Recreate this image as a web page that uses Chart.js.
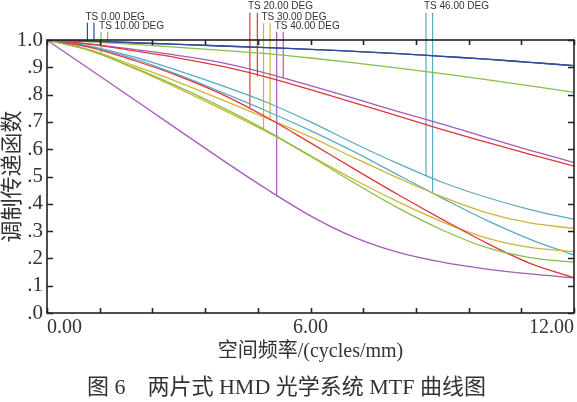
<!DOCTYPE html>
<html>
<head>
<meta charset="utf-8">
<script src="https://cdn.jsdelivr.net/npm/chart.js@4/dist/chart.umd.min.js"></script>
<style>
  html, body { margin: 0; padding: 0; background: #fff; }
</style>
</head>
<body>
<canvas id="mtfChart" width="577" height="402"></canvas>
<script>
// --- MTF data (spatial frequency in cycles/mm) ---
const freqs = [0, 1, 2, 3, 4, 5, 6, 7, 8, 9, 10, 11, 12];

const mtf0T  = [1, 0.996, 0.990, 0.984, 0.978, 0.972, 0.966, 0.958, 0.950, 0.940, 0.930, 0.918, 0.906];
const mtf0S  = [1, 0.996, 0.990, 0.984, 0.978, 0.972, 0.966, 0.958, 0.950, 0.940, 0.930, 0.918, 0.906];
const mtf10T = [1, 0.960, 0.898, 0.828, 0.752, 0.668, 0.574, 0.476, 0.384, 0.304, 0.240, 0.203, 0.186];
const mtf10S = [1, 0.993, 0.984, 0.973, 0.962, 0.950, 0.934, 0.916, 0.897, 0.877, 0.855, 0.832, 0.808];
const mtf20T = [1, 0.972, 0.924, 0.868, 0.800, 0.717, 0.623, 0.527, 0.433, 0.343, 0.257, 0.182, 0.129];
const mtf20S = [1, 0.984, 0.960, 0.934, 0.903, 0.864, 0.818, 0.770, 0.721, 0.672, 0.626, 0.581, 0.538];
const mtf30T = [1, 0.960, 0.895, 0.822, 0.745, 0.664, 0.576, 0.488, 0.407, 0.334, 0.275, 0.240, 0.225];
const mtf30S = [1, 0.963, 0.905, 0.845, 0.780, 0.714, 0.645, 0.568, 0.494, 0.425, 0.368, 0.330, 0.310];
const mtf40T = [1, 0.890, 0.780, 0.670, 0.560, 0.454, 0.356, 0.277, 0.222, 0.186, 0.161, 0.143, 0.129];
const mtf40S = [1, 0.985, 0.965, 0.943, 0.916, 0.878, 0.833, 0.786, 0.738, 0.692, 0.643, 0.596, 0.551];
const mtf46T = [1, 0.975, 0.930, 0.872, 0.807, 0.740, 0.668, 0.590, 0.505, 0.421, 0.340, 0.270, 0.212];
const mtf46S = [1, 0.977, 0.937, 0.887, 0.832, 0.772, 0.700, 0.621, 0.547, 0.479, 0.424, 0.379, 0.343];

// field legend: label, marker frequencies, where each marker meets its curve, marker top
const fieldLabels = ['TS 0.00 DEG', 'TS 10.00 DEG', 'TS 20.00 DEG', 'TS 30.00 DEG', 'TS 40.00 DEG', 'TS 46.00 DEG'];
const markerFreqs = [[0.92, 1.07], [1.23, 1.38], [4.62, 4.79], [4.93, 5.08], [5.23, 5.38], [8.63, 8.78]];
const markerEnds  = [[0.997, 0.996], [0.952, 0.994], [0.753, 0.866], [0.670, 0.713], [0.426, 0.860], [0.502, 0.441]];
const markerTops  = [1.063, 1.030, 1.100, 1.061, 1.030, 1.100];

const yTickLabels = ['.0', '.1', '.2', '.3', '.4', '.5', '.6', '.7', '.8', '.9', '1.0'];
const xLabelled = [0, 6, 12];

const xTitle = '空间频率/(cycles/mm)';
const yTitle = '调制传递函数';
const caption = '图 6\u3000两片式 HMD 光学系统 MTF 曲线图';

// --- styles ---
const fieldColors = ['#2f4c98', '#86bf48', '#e0363c', '#cdb636', '#a45cb6', '#5aabc3'];
const serif = '"Liberation Serif", "Times New Roman", "Noto Sans CJK SC", serif';
const textColor = '#333';

const fieldCurves = [
  [mtf0T, mtf0S], [mtf10T, mtf10S], [mtf20T, mtf20S],
  [mtf30T, mtf30S], [mtf40T, mtf40S], [mtf46T, mtf46S]
];

// --- build datasets ---
const datasets = [];

fieldCurves.forEach((pair, f) => {
  pair.forEach(values => {
    datasets.push({
      data: freqs.map((fr, i) => ({ x: fr, y: values[i] })),
      borderColor: fieldColors[f],
      borderWidth: 1.3,
      pointRadius: 0,
      cubicInterpolationMode: 'monotone',
      fill: false
    });
  });
});

// vertical legend markers (drawn outside the plot box, so no clipping)
markerFreqs.forEach((fs, f) => {
  fs.forEach((fr, k) => {
    datasets.push({
      data: [{ x: fr, y: markerTops[f] }, { x: fr, y: markerEnds[f][k] }],
      borderColor: fieldColors[f],
      borderWidth: 1.2,
      pointRadius: 0,
      clip: false,
      fill: false
    });
  });
});

// frame with inward ticks, field labels and the caption
const framePlugin = {
  id: 'frame',
  afterDatasetsDraw(chart) {
    const { ctx, chartArea: a, scales: { x, y } } = chart;
    ctx.save();
    ctx.strokeStyle = '#222';
    ctx.lineWidth = 1.6;
    ctx.strokeRect(a.left, a.top, a.right - a.left, a.bottom - a.top);

    ctx.beginPath();
    x.ticks.forEach(t => {
      const px = Math.round(x.getPixelForValue(t.value)) + 0.5;
      ctx.moveTo(px, a.bottom); ctx.lineTo(px, a.bottom - 5);
      ctx.moveTo(px, a.top); ctx.lineTo(px, a.top + 5);
    });
    y.ticks.forEach(t => {
      const py = Math.round(y.getPixelForValue(t.value)) + 0.5;
      ctx.moveTo(a.left, py); ctx.lineTo(a.left + 6, py);
      ctx.moveTo(a.right, py); ctx.lineTo(a.right - 6, py);
    });
    ctx.stroke();

    ctx.fillStyle = textColor;
    ctx.font = '10px "Liberation Sans", Arial, sans-serif';
    ctx.textAlign = 'left';
    ctx.textBaseline = 'bottom';
    fieldLabels.forEach((label, f) => {
      ctx.fillText(label, x.getPixelForValue(markerFreqs[f][0]) - 2, y.getPixelForValue(markerTops[f]) - 1);
    });

    ctx.font = '22px ' + serif;
    ctx.textAlign = 'center';
    ctx.textBaseline = 'middle';
    ctx.fillText(caption, chart.width / 2 - 2, 388);
    ctx.restore();
  }
};

new Chart(document.getElementById('mtfChart'), {
  type: 'line',
  data: { datasets: datasets },
  options: {
    responsive: false,
    animation: false,
    layout: { padding: { top: 40, right: 2, left: 0, bottom: 0 } },
    plugins: { legend: { display: false }, tooltip: { enabled: false } },
    scales: {
      x: {
        type: 'linear',
        min: 0,
        max: 12,
        grid: { display: false, drawTicks: false },
        border: { display: false },
        ticks: {
          stepSize: 1.2,
          autoSkip: false,
          maxRotation: 0,
          align: 'inner',
          padding: 3,
          color: textColor,
          font: { family: serif, size: 20 },
          callback: v => xLabelled.some(l => Math.abs(l - v) < 1e-6) ? v.toFixed(2) : ''
        },
        title: {
          display: true,
          text: xTitle,
          color: textColor,
          font: { family: serif, size: 20 },
          padding: { top: 0, bottom: 38 }
        },
        afterFit: s => { s.height = 89; }
      },
      y: {
        type: 'linear',
        min: 0,
        max: 1,
        grid: { display: false, drawTicks: false },
        border: { display: false },
        ticks: {
          stepSize: 0.1,
          autoSkip: false,
          padding: 4,
          color: textColor,
          font: { family: serif, size: 21 },
          callback: v => yTickLabels[Math.round(v * 10)]
        },
        title: {
          display: true,
          text: yTitle,
          color: textColor,
          font: { family: serif, size: 22 },
          padding: { top: 0, bottom: 0 }
        },
        afterFit: s => { s.width = 47; }
      }
    }
  },
  plugins: [framePlugin]
});
</script>
</body>
</html>
